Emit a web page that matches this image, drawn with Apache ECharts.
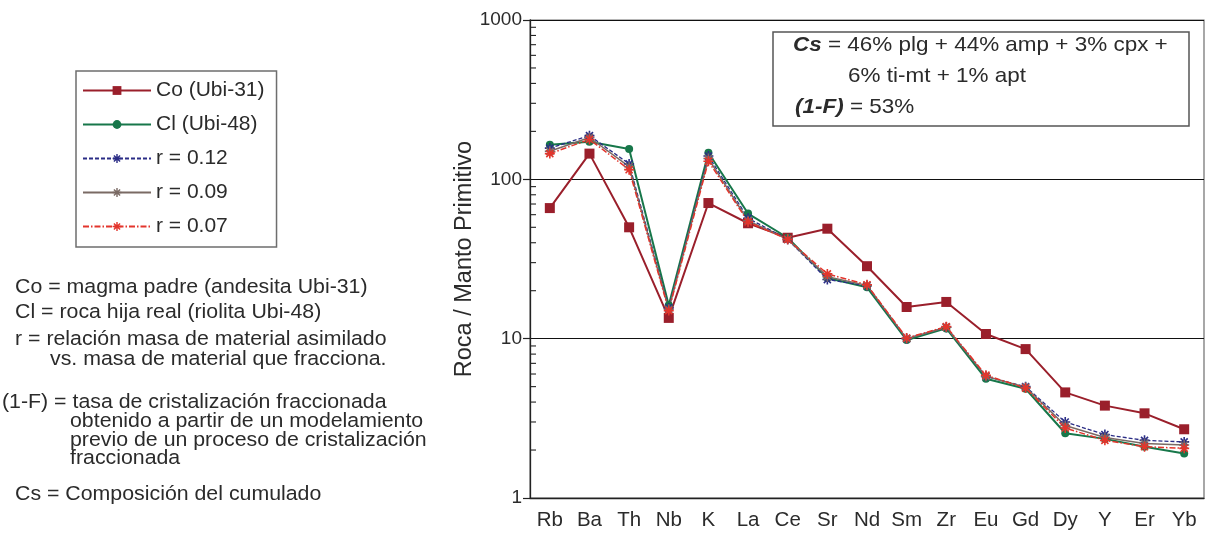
<!DOCTYPE html>
<html>
<head>
<meta charset="utf-8">
<script src="https://cdn.jsdelivr.net/npm/echarts@6/dist/echarts.min.js"></script>
<style>
  html, body { margin: 0; padding: 0; background: #ffffff; }
  #chart { width: 1214px; height: 538px; }
</style>
</head>
<body>
<div id="chart"></div>
<script>
// Multi-element diagram normalised to primitive mantle (log scale)
const elements = ['Rb', 'Ba', 'Th', 'Nb', 'K', 'La', 'Ce', 'Sr', 'Nd', 'Sm', 'Zr', 'Eu', 'Gd', 'Dy', 'Y', 'Er', 'Yb'];

const co    = [66, 145, 50, 13.5, 71, 53, 43, 49, 28.5, 15.8, 17, 10.7, 8.6, 4.6, 3.8, 3.4, 2.7];
const cl    = [165, 172, 155, 16.2, 147, 61, 43, 24, 21, 9.8, 11.6, 5.6, 4.85, 2.55, 2.35, 2.1, 1.9];
const r012  = [157, 188, 125, 15.6, 140, 57, 42, 23.5, 21.5, 10, 11.8, 5.8, 5.0, 3.0, 2.5, 2.3, 2.25];
const r009  = [150, 183, 120, 15.3, 135, 55, 42, 24.5, 21.6, 10, 11.8, 5.8, 4.95, 2.85, 2.4, 2.2, 2.15];
const r007  = [145, 178, 115, 15.0, 130, 54, 42, 25.5, 21.8, 10.1, 11.9, 5.9, 4.9, 2.75, 2.3, 2.1, 2.05];

const seriesNames = ['Co (Ubi-31)', 'Cl (Ubi-48)', 'r = 0.12', 'r = 0.09', 'r = 0.07'];

// minor ticks of the log axis (2..9 in each decade)
const minorTicks = [2, 3, 4, 5, 6, 7, 8, 9, 20, 30, 40, 50, 60, 70, 80, 90, 200, 300, 400, 500, 600, 700, 800, 900];

const notes = [
  { text: 'Co = magma padre (andesita Ubi-31)', x: 15, y: 287 },
  { text: 'Cl = roca hija real (riolita Ubi-48)', x: 15, y: 312 },
  { text: 'r = relación masa de material asimilado', x: 15, y: 339 },
  { text: 'vs. masa de material que fracciona.', x: 50, y: 359 },
  { text: '(1-F) = tasa de cristalización fraccionada', x: 2, y: 402 },
  { text: 'obtenido a partir de un modelamiento', x: 70, y: 421 },
  { text: 'previo de un proceso de cristalización', x: 70, y: 440 },
  { text: 'fraccionada', x: 70, y: 458 },
  { text: 'Cs = Composición del cumulado', x: 15, y: 494 }
];

const FONT = '"Liberation Sans", Arial, Helvetica, sans-serif';
const TEXT = '#2b2b2b';

// eight-armed asterisk marker
const ASTERISK = 'path://M-5,-0.8L5,-0.8L5,0.8L-5,0.8Z' +
  'M-0.8,-5L0.8,-5L0.8,5L-0.8,5Z' +
  'M2.97,4.1L-4.1,-2.97L-2.97,-4.1L4.1,2.97Z' +
  'M4.1,-2.97L-2.97,4.1L-4.1,2.97L2.97,-4.1Z';

const chart = echarts.init(document.getElementById('chart'), null, { renderer: 'canvas' });

function lineSeries(name, data, color, symbol, size, lineType, width) {
  return {
    name: name,
    type: 'line',
    data: data,
    symbol: symbol,
    symbolSize: size,
    showSymbol: true,
    lineStyle: { color: color, width: width, type: lineType },
    itemStyle: { color: color },
    emphasis: { disabled: true },
    animation: false
  };
}

const noteGraphics = notes.map(n => ({
  type: 'text',
  x: n.x,
  y: n.y,
  scaleX: 1.04,
  style: { text: n.text, font: '20.5px ' + FONT, fill: TEXT, verticalAlign: 'middle' }
}));

const option = {
  backgroundColor: '#ffffff',
  animation: false,
  textStyle: { fontFamily: FONT },
  grid: {
    left: 530, right: 10, top: 20, bottom: 40,
    show: true, borderColor: '#6e6e6e', borderWidth: 1.2, backgroundColor: 'transparent'
  },
  legend: {
    orient: 'vertical',
    left: 76, top: 71,
    padding: [9, 12, 10, 6],
    itemWidth: 68, itemHeight: 11, itemGap: 13,
    borderColor: '#6e6e6e', borderWidth: 1.5,
    data: seriesNames,
    textStyle: { fontSize: 21, color: TEXT, fontFamily: FONT },
    selectedMode: false
  },
  xAxis: {
    type: 'category',
    data: elements,
    boundaryGap: true,
    axisLine: { lineStyle: { color: '#222', width: 1.3 } },
    axisTick: { alignWithLabel: true, length: 5, lineStyle: { color: '#222', width: 1.2 } },
    axisLabel: { fontSize: 20.5, color: TEXT, margin: 12, fontFamily: FONT, interval: 0 },
    splitLine: { show: false }
  },
  yAxis: {
    type: 'log',
    logBase: 10,
    min: 1, max: 1000,
    name: 'Roca / Manto Primitivo',
    nameLocation: 'middle',
    nameGap: 53,
    nameMoveOverlap: false,
    nameTextStyle: { fontSize: 23.5, color: TEXT, fontFamily: FONT },
    axisLine: { show: true, lineStyle: { color: '#222', width: 1.3 } },
    axisTick: { show: true, length: 7, lineStyle: { color: '#222', width: 1.2 } },
    axisLabel: { fontSize: 19, color: TEXT, margin: 8, fontFamily: FONT, formatter: v => String(v) },
    splitLine: { show: true, lineStyle: { color: '#111', width: 1.2 } }
  },
  series: [
    lineSeries(seriesNames[0], co,   '#9a1f2b', 'rect',   10, 'solid', 2),
    lineSeries(seriesNames[1], cl,   '#17774a', 'circle',  8, 'solid', 2),
    lineSeries(seriesNames[2], r012, '#2b2d86', ASTERISK, 10, [4, 2], 1.3),
    lineSeries(seriesNames[3], r009, '#7a6a64', ASTERISK, 10, 'solid', 1.5),
    lineSeries(seriesNames[4], r007, '#e3352c', ASTERISK, 10, [6, 2, 1.5, 2], 1.5),
    {
      type: 'custom',
      name: 'minor',
      silent: true,
      animation: false,
      z: 3,
      data: minorTicks.map(v => [0, v]),
      renderItem: function (params, api) {
        const y = api.coord([0, api.value(1)])[1];
        const x = params.coordSys.x;
        return {
          type: 'line',
          shape: { x1: x, y1: y, x2: x + 6, y2: y },
          style: { stroke: '#222', lineWidth: 1.1 }
        };
      }
    }
  ],
  graphic: noteGraphics.concat([
    {
      type: 'rect',
      shape: { x: 773, y: 32, width: 416, height: 94 },
      style: { fill: '#ffffff', stroke: '#555', lineWidth: 1.5 },
      z: 10
    },
    {
      type: 'text', x: 793, y: 45, z: 11, scaleX: 1.07,
      style: {
        text: '{b|Cs} = 46% plg + 44% amp + 3% cpx +',
        font: '21px ' + FONT, fill: TEXT, verticalAlign: 'middle',
        rich: { b: { fontWeight: 'bold', fontStyle: 'italic', fontSize: 21, fontFamily: FONT, fill: TEXT } }
      }
    },
    {
      type: 'text', x: 848, y: 76, z: 11, scaleX: 1.07,
      style: { text: '6% ti-mt + 1% apt', font: '21px ' + FONT, fill: TEXT, verticalAlign: 'middle' }
    },
    {
      type: 'text', x: 795, y: 107, z: 11, scaleX: 1.07,
      style: {
        text: '{b|(1-F)} = 53%',
        font: '21px ' + FONT, fill: TEXT, verticalAlign: 'middle',
        rich: { b: { fontWeight: 'bold', fontStyle: 'italic', fontSize: 21, fontFamily: FONT, fill: TEXT } }
      }
    }
  ])
};

chart.setOption(option);
</script>
</body>
</html>
